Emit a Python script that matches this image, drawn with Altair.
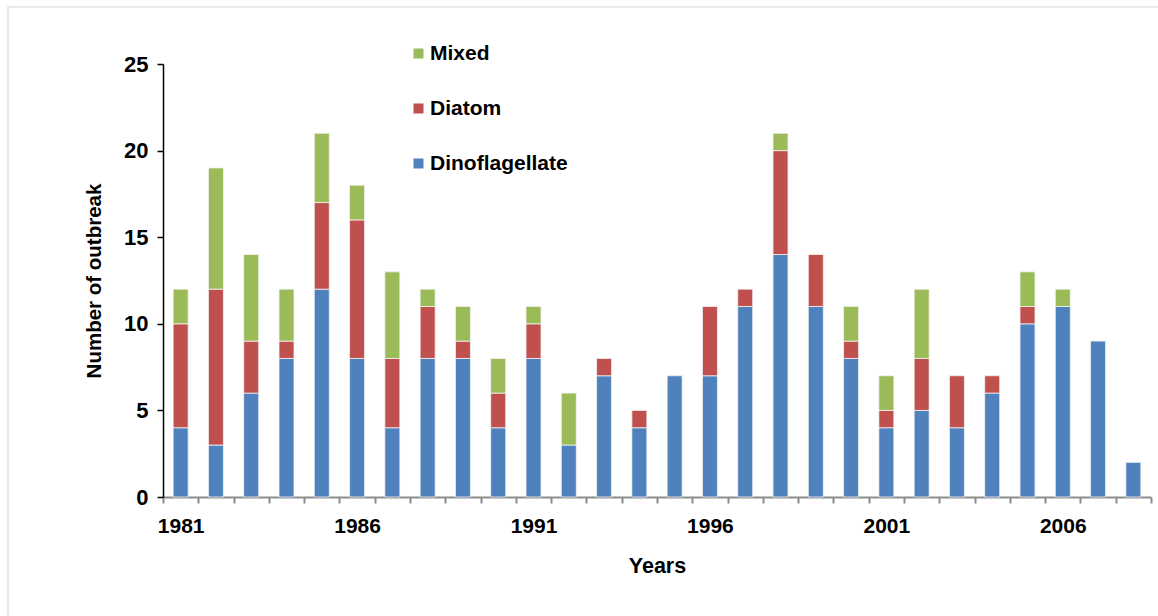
import altair as alt
import pandas as pd

# Yearly counts of harmful algal bloom outbreaks by causative group
years = list(range(1981, 2009))
dinoflagellate = [4, 3, 6, 8, 12, 8, 4, 8, 8, 4, 8, 3, 7, 4, 7, 7, 11, 14, 11, 8, 4, 5, 4, 6, 10, 11, 9, 2]
diatom =         [6, 9, 3, 1, 5, 8, 4, 3, 1, 2, 2, 0, 1, 1, 0, 4, 1, 6, 3, 1, 1, 3, 3, 1, 1, 0, 0, 0]
mixed =          [2, 7, 5, 3, 4, 2, 5, 1, 2, 2, 1, 3, 0, 0, 0, 0, 0, 1, 0, 2, 2, 4, 0, 0, 2, 1, 0, 0]

groups = ["Mixed", "Diatom", "Dinoflagellate"]
colors = ["#9BBB59", "#C0504D", "#4F81BD"]
stack_rank = {"Dinoflagellate": 0, "Diatom": 1, "Mixed": 2}

rows = []
for i, y in enumerate(years):
    for name, series in (("Dinoflagellate", dinoflagellate), ("Diatom", diatom), ("Mixed", mixed)):
        if series[i] > 0:
            rows.append({"Year": y, "Group": name, "Count": series[i], "rank": stack_rank[name]})
df = pd.DataFrame(rows)

FONT = "Liberation Sans"

bars = alt.Chart(df).mark_bar(size=15, stroke="#f2f2f2", strokeWidth=0.8).encode(
    x=alt.X(
        "Year:O",
        title="Years",
        scale=alt.Scale(paddingInner=0, paddingOuter=0),
        axis=alt.Axis(
            labelAngle=0,
            tickBand="extent",
            labelExpr="(datum.value - 1981) % 5 == 0 ? datum.label : ''",
            domainColor="#8c8c8c",
            domainWidth=2,
            tickColor="#8c8c8c",
            tickWidth=2,
            tickSize=6,
            labelFontSize=21,
            labelFontWeight="bold",
            labelColor="#000000",
            labelPadding=12,
            titleFontSize=21.5,
            titleFontWeight="bold",
            titleColor="#000000",
            titlePadding=19,
        ),
    ),
    y=alt.Y(
        "Count:Q",
        title="Number of outbreak",
        scale=alt.Scale(domain=[0, 25], nice=False),
        axis=alt.Axis(
            values=[0, 5, 10, 15, 20, 25],
            grid=False,
            domainColor="#000000",
            domainWidth=1.5,
            tickColor="#000000",
            tickWidth=1.5,
            tickSize=6,
            labelFontSize=22,
            labelFontWeight="bold",
            labelColor="#000000",
            labelPadding=9,
            titleFontSize=20.5,
            titleFontWeight="bold",
            titleColor="#000000",
            titlePadding=19,
        ),
    ),
    color=alt.Color(
        "Group:N",
        scale=alt.Scale(domain=groups, range=colors),
        legend=alt.Legend(
            title=None,
            orient="none",
            legendX=245,
            legendY=-21,
            symbolType="square",
            symbolSize=100,
            symbolStrokeWidth=0,
            labelFontSize=21,
            labelFontWeight="bold",
            labelColor="#000000",
            labelFont=FONT,
            rowPadding=33,
            labelOffset=1,
        ),
    ),
    order=alt.Order("rank:Q", sort="ascending"),
)

# light frame around the figure
frame = alt.Chart(pd.DataFrame({"k": [0]})).mark_rect(
    fill=None, stroke="#e3e3e3", strokeWidth=1.5
).encode(
    x=alt.value(-155), x2=alt.value(1100), y=alt.value(-57), y2=alt.value(700)
)

chart = alt.layer(frame, bars).properties(
    width=988,
    height=433,
    autosize=alt.AutoSizeParams(type="none"),
    padding={"left": 163, "top": 64, "right": 7, "bottom": 119},
).configure(
    font=FONT,
    background="#ffffff",
).configure_view(stroke=None)

chart.save("out.html", embed_options={"renderer": "svg", "actions": False})
